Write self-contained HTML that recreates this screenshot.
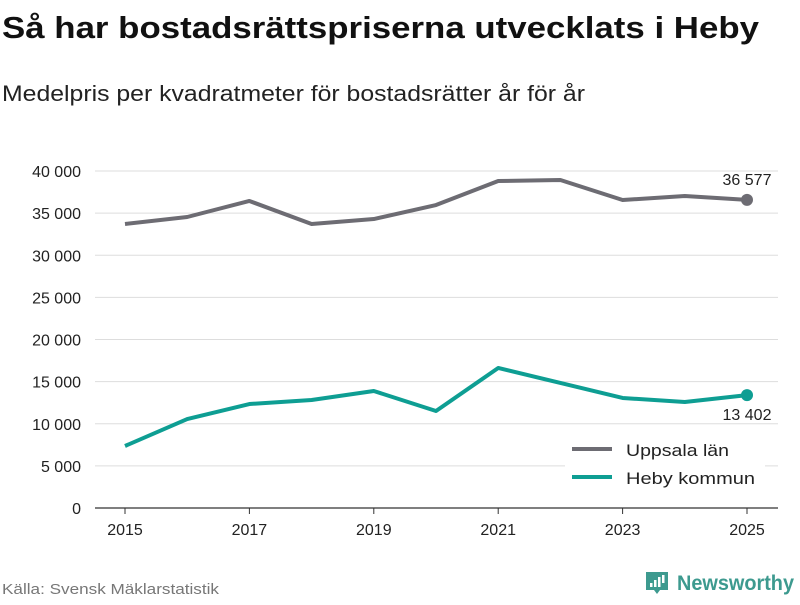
<!DOCTYPE html>
<html><head><meta charset="utf-8"><style>
body{margin:0;width:800px;height:600px;background:#fff;font-family:"Liberation Sans",sans-serif;overflow:hidden}
</style></head><body>
<svg id="c" width="800" height="600" xmlns="http://www.w3.org/2000/svg">
<text x="2" y="38" font-size="31" font-weight="bold" fill="#111" textLength="757" lengthAdjust="spacingAndGlyphs">Så har bostadsrättspriserna utvecklats i Heby</text>
<text x="2" y="101" font-size="22" fill="#222" textLength="583" lengthAdjust="spacingAndGlyphs">Medelpris per kvadratmeter för bostadsrätter år för år</text>
<g id="grid"></g><g id="series"></g>
<g>
<rect x="565" y="435" width="200" height="58" fill="#fff"/>
<line x1="572" y1="449" x2="612" y2="449" stroke="#6d6c73" stroke-width="4"/>
<text x="626" y="456" font-size="17" fill="#222" textLength="103" lengthAdjust="spacingAndGlyphs">Uppsala län</text>
<line x1="572" y1="477" x2="612" y2="477" stroke="#0e9e93" stroke-width="4"/>
<text x="626" y="484" font-size="17" fill="#222" textLength="129" lengthAdjust="spacingAndGlyphs">Heby kommun</text>
</g>
<text x="2" y="594" font-size="15" fill="#777" textLength="217" lengthAdjust="spacingAndGlyphs">Källa: Svensk Mäklarstatistik</text>
<g>
<path d="M646 572h22v18h-8l-3 4-3-4h-8z" fill="#3d9a8f"/>
<rect x="650" y="583" width="2.5" height="4" fill="#fff"/><rect x="654" y="580" width="2.5" height="7" fill="#fff"/><rect x="658" y="577" width="2.5" height="10" fill="#fff"/><rect x="662" y="575" width="2.5" height="8" fill="#fff"/>
<text x="677" y="590" font-size="21" font-weight="bold" fill="#3d9a8f" textLength="117" lengthAdjust="spacingAndGlyphs">Newsworthy</text>
</g>
</svg>
<script>
const years=[2015,2016,2017,2018,2019,2020,2021,2022,2023,2024,2025];
const uppsala=[33710,34540,36440,33710,34300,35960,38810,38930,36560,37030,36577];
const heby=[7360,10560,12340,12820,13890,11510,16620,14840,13060,12580,13402];
const yTicks=[0,5000,10000,15000,20000,25000,30000,35000,40000];
const xTicks=[2015,2017,2019,2021,2023,2025];
const NS="http://www.w3.org/2000/svg";
const X=v=>125+(v-2015)*62.2;
const Y=v=>508-v/40000*337;
const fmt=v=>String(v).replace(/\B(?=(\d{3})+(?!\d))/g," ");
function mk(t,a,p){const e=document.createElementNS(NS,t);for(const k in a)e.setAttribute(k,a[k]);p.appendChild(e);return e;}
const g=document.getElementById('grid'),s=document.getElementById('series');
yTicks.forEach(v=>{
 const l=mk('line',{x1:95,x2:778,y1:Y(v),y2:Y(v),stroke:v===0?'#333':'#ddd','stroke-width':v===0?1.2:1},g);
 
 
 const t=mk('text',{x:81,y:Y(v)+6,'text-anchor':'end','font-size':16,fill:'#222'},g);t.textContent=fmt(v);
 
 
});
xTicks.forEach(v=>{
 const l=mk('line',{x1:X(v),x2:X(v),y1:508,y2:514,stroke:'#333'},g);
 
 
 const t=mk('text',{x:X(v),y:535,'text-anchor':'middle','font-size':16,fill:'#222'},g);t.textContent=v;
 
 
});
function draw(data,color,name,labelDy){
 const p=mk('polyline',{points:data.map((v,i)=>X(years[i])+','+Y(v)).join(' '),fill:'none',stroke:color,'stroke-width':4,'stroke-linejoin':'round'},s);
 
 
 const last=data[data.length-1],lx=X(years[years.length-1]);
 const c=mk('circle',{cx:lx,cy:Y(last),r:6,fill:color},s);
 
 
 const t=mk('text',{x:lx,y:Y(last)+labelDy,'text-anchor':'middle','font-size':16,fill:'#222'},s);t.textContent=fmt(last);
 
 
}
draw(uppsala,'#6d6c73','uppsala',-15);
draw(heby,'#0e9e93','heby',25);
</script>
</body></html>
